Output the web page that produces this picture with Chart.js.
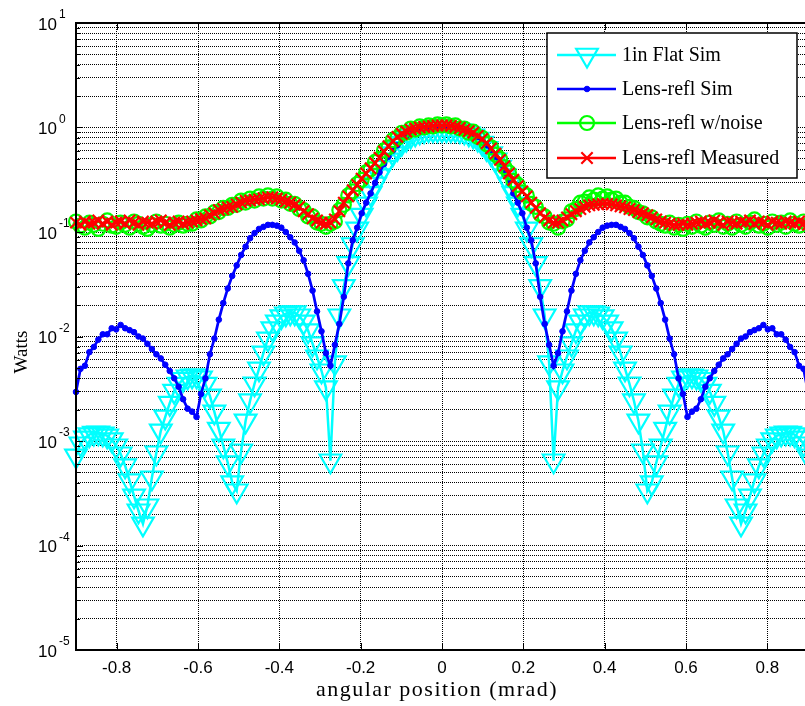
<!DOCTYPE html>
<html>
<head>
<meta charset="utf-8">
<script src="https://cdn.jsdelivr.net/npm/chart.js@4.4.1/dist/chart.umd.min.js"></script>
<style>
  html, body { margin: 0; padding: 0; background: #fff; width: 805px; height: 706px; overflow: hidden; }
  canvas { display: block; }
</style>
</head>
<body>
<canvas id="beamChart" width="812" height="706"></canvas>
<script>
// sampling grid of the angular scan (mrad)
const xMin = -0.9;
const xMax = 0.9;
const nSamples = 165;
const angle = Array.from({ length: nSamples }, (_, i) => xMin + i * (xMax - xMin) / (nSamples - 1));

const xTickValues = [-0.8, -0.6, -0.4, -0.2, 0, 0.2, 0.4, 0.6, 0.8];
const yTickExponents = [-5, -4, -3, -2, -1, 0, 1];

const seriesNames = ['1in Flat Sim', 'Lens-refl Sim', 'Lens-refl w/noise', 'Lens-refl Measured'];

// 1in Flat Sim (Watts)
const flatSim = [
  7.22e-4, 9.41e-4, 1.07e-3, 1.15e-3, 1.19e-3, 1.20e-3, 1.17e-3, 1.12e-3, 1.03e-3, 9.01e-4,
  7.55e-4, 5.80e-4, 4.17e-4, 2.99e-4, 2.15e-4, 1.61e-4, 2.40e-4, 4.45e-4, 7.72e-4, 1.25e-3,
  1.70e-3, 2.30e-3, 3.00e-3, 3.50e-3, 3.90e-3, 4.12e-3, 4.21e-3, 4.21e-3, 4.03e-3, 3.50e-3,
  2.70e-3, 1.90e-3, 1.30e-3, 9.00e-4, 6.20e-4, 4.00e-4, 3.34e-4, 8.07e-4, 1.56e-3, 2.43e-3,
  3.53e-3, 4.91e-3, 6.98e-3, 9.51e-3, 1.19e-2, 1.38e-2, 1.55e-2, 1.65e-2, 1.69e-2, 1.69e-2,
  1.58e-2, 1.38e-2, 1.14e-2, 8.53e-3, 6.40e-3, 4.70e-3, 3.24e-3, 6.47e-4, 5.62e-3, 1.58e-2,
  3.02e-2, 5.01e-2, 7.59e-2, 0.107, 0.145, 0.186, 0.234, 0.288, 0.347, 0.417,
  0.490, 0.562, 0.631, 0.708, 0.776, 0.832, 0.871, 0.912, 0.933, 0.955,
  0.955, 0.955, 0.955,
  0.955, 0.955, 0.955, 0.933, 0.912, 0.871, 0.832, 0.776, 0.708, 0.631,
  0.562, 0.490, 0.417, 0.347, 0.288, 0.234, 0.186, 0.145, 0.107, 7.59e-2,
  5.01e-2, 3.02e-2, 1.58e-2, 5.62e-3, 6.47e-4, 3.24e-3, 4.70e-3, 6.40e-3, 8.53e-3, 1.14e-2,
  1.38e-2, 1.58e-2, 1.69e-2, 1.69e-2, 1.65e-2, 1.55e-2, 1.38e-2, 1.19e-2, 9.51e-3, 6.98e-3,
  4.91e-3, 3.53e-3, 2.43e-3, 1.56e-3, 8.07e-4, 3.34e-4, 4.00e-4, 6.20e-4, 9.00e-4, 1.30e-3,
  1.90e-3, 2.70e-3, 3.50e-3, 4.03e-3, 4.21e-3, 4.21e-3, 4.12e-3, 3.90e-3, 3.50e-3, 3.00e-3,
  2.30e-3, 1.70e-3, 1.25e-3, 7.72e-4, 4.45e-4, 2.40e-4, 1.61e-4, 2.15e-4, 2.99e-4, 4.17e-4,
  5.80e-4, 7.55e-4, 9.01e-4, 1.03e-3, 1.12e-3, 1.17e-3, 1.20e-3, 1.19e-3, 1.15e-3, 1.07e-3,
  9.41e-4, 7.22e-4
];

// Lens-refl Sim (Watts)
const lensSim = [
  2.95e-3, 4.90e-3, 5.25e-3, 7.08e-3, 7.94e-3, 9.33e-3, 1.05e-2, 1.05e-2, 1.20e-2, 1.17e-2,
  1.29e-2, 1.20e-2, 1.15e-2, 1.10e-2, 1.00e-2, 9.55e-3, 8.51e-3, 7.59e-3, 6.76e-3, 6.17e-3,
  5.37e-3, 4.68e-3, 3.98e-3, 3.31e-3, 2.51e-3, 2.04e-3, 1.91e-3, 1.70e-3, 2.82e-3, 3.98e-3,
  6.76e-3, 9.55e-3, 1.45e-2, 2.09e-2, 2.88e-2, 3.80e-2, 4.79e-2, 6.03e-2, 7.24e-2, 8.71e-2,
  9.77e-2, 0.107, 0.112, 0.117, 0.117, 0.115, 0.110, 0.100, 8.91e-2, 7.94e-2,
  6.61e-2, 5.37e-2, 3.98e-2, 2.75e-2, 1.74e-2, 1.12e-2, 6.92e-3, 5.25e-3, 8.32e-3, 1.32e-2,
  2.40e-2, 5.01e-2, 8.32e-2, 0.110, 0.151, 0.191, 0.234, 0.295, 0.372, 0.447,
  0.525, 0.603, 0.676, 0.759, 0.813, 0.871, 0.912, 0.955, 0.977, 0.989,
  0.995, 1.0, 1.0,
  1.0, 0.995, 0.989, 0.977, 0.955, 0.912, 0.871, 0.813, 0.759, 0.676,
  0.603, 0.525, 0.447, 0.372, 0.295, 0.234, 0.191, 0.151, 0.110, 8.32e-2,
  5.01e-2, 2.40e-2, 1.32e-2, 8.32e-3, 5.25e-3, 6.92e-3, 1.12e-2, 1.74e-2, 2.75e-2, 3.98e-2,
  5.37e-2, 6.61e-2, 7.94e-2, 8.91e-2, 0.100, 0.110, 0.115, 0.117, 0.117, 0.112,
  0.107, 9.77e-2, 8.71e-2, 7.24e-2, 6.03e-2, 4.79e-2, 3.80e-2, 2.88e-2, 2.09e-2, 1.45e-2,
  9.55e-3, 6.76e-3, 3.98e-3, 2.82e-3, 1.70e-3, 1.91e-3, 2.04e-3, 2.51e-3, 3.31e-3, 3.98e-3,
  4.68e-3, 5.37e-3, 6.17e-3, 6.76e-3, 7.59e-3, 8.51e-3, 9.55e-3, 1.00e-2, 1.10e-2, 1.15e-2,
  1.20e-2, 1.29e-2, 1.17e-2, 1.20e-2, 1.05e-2, 1.05e-2, 9.33e-3, 7.94e-3, 7.08e-3, 5.25e-3,
  4.90e-3, 2.95e-3
];

// Lens-refl w/noise (Watts)
const lensNoise = [
  0.126, 0.115, 0.110, 0.123, 0.117, 0.107, 0.120, 0.129, 0.115, 0.112,
  0.123, 0.117, 0.110, 0.126, 0.120, 0.112, 0.107, 0.117, 0.126, 0.115,
  0.120, 0.110, 0.117, 0.123, 0.115, 0.120,
  0.120, 0.132, 0.129, 0.141, 0.141, 0.155, 0.155, 0.170, 0.170, 0.182,
  0.182, 0.200, 0.191, 0.209, 0.200, 0.219, 0.209, 0.224, 0.209, 0.219,
  0.200, 0.204, 0.186, 0.186, 0.166, 0.162, 0.141, 0.141, 0.123, 0.120,
  0.112, 0.120, 0.126,
  0.162, 0.182, 0.224, 0.245, 0.288, 0.316, 0.372, 0.398, 0.468, 0.501,
  0.603, 0.646, 0.759, 0.794, 0.891, 0.891, 0.977, 0.955, 1.023, 1.000,
  1.047, 1.023, 1.072, 1.047,
  1.072, 1.023, 1.047, 0.977, 0.977, 0.891, 0.912, 0.813, 0.794, 0.692,
  0.646, 0.550, 0.501, 0.417, 0.372, 0.309, 0.282, 0.240, 0.224, 0.186,
  0.174, 0.148, 0.141, 0.123, 0.120, 0.110, 0.126, 0.132, 0.158, 0.166,
  0.191, 0.195, 0.214, 0.204, 0.224, 0.209, 0.219, 0.204, 0.209, 0.191,
  0.191, 0.174, 0.170, 0.155, 0.151, 0.138, 0.138, 0.126, 0.120, 0.115,
  0.123, 0.110, 0.117, 0.107, 0.120, 0.112,
  0.126, 0.115, 0.110, 0.123, 0.117, 0.129, 0.112, 0.120, 0.110, 0.126,
  0.117, 0.112, 0.123, 0.132, 0.115, 0.120, 0.110, 0.126, 0.117, 0.123,
  0.112, 0.129, 0.120, 0.115, 0.126, 0.117
];

// Lens-refl Measured (Watts)
const lensMeasured = [
  0.123, 0.117, 0.126, 0.120, 0.123, 0.129, 0.120, 0.126, 0.117, 0.123,
  0.126, 0.120, 0.129, 0.123, 0.117, 0.126, 0.123, 0.120, 0.126, 0.129,
  0.123, 0.117, 0.123, 0.126, 0.120, 0.123,
  0.126, 0.129, 0.133, 0.135, 0.145, 0.151, 0.162, 0.166, 0.172, 0.174,
  0.184, 0.191, 0.199, 0.200, 0.204, 0.205, 0.211, 0.214, 0.215, 0.209,
  0.204, 0.196, 0.191, 0.182, 0.174, 0.158, 0.148, 0.135, 0.129, 0.123,
  0.120, 0.123, 0.132,
  0.158, 0.191, 0.219, 0.251, 0.282, 0.324, 0.363, 0.407, 0.457, 0.513,
  0.589, 0.661, 0.741, 0.813, 0.871, 0.912, 0.955, 0.977, 1.000, 1.012,
  1.023, 1.035, 1.047, 1.047,
  1.047, 1.035, 1.012, 0.989, 0.955, 0.923, 0.891, 0.832, 0.776, 0.708,
  0.631, 0.562, 0.490, 0.427, 0.363, 0.316, 0.275, 0.245, 0.219, 0.191,
  0.170, 0.151, 0.138, 0.129, 0.123, 0.123, 0.129, 0.138, 0.148, 0.158,
  0.166, 0.174, 0.180, 0.182, 0.184, 0.186, 0.186, 0.184, 0.180, 0.176,
  0.172, 0.166, 0.162, 0.155, 0.151, 0.145, 0.138, 0.132, 0.126, 0.123,
  0.120, 0.117, 0.117, 0.120, 0.117, 0.120,
  0.123, 0.126, 0.120, 0.123, 0.129, 0.123, 0.117, 0.126, 0.123, 0.120,
  0.126, 0.123, 0.129, 0.120, 0.126, 0.123, 0.117, 0.126, 0.123, 0.120,
  0.126, 0.123, 0.120, 0.126, 0.120, 0.117
];

[flatSim, lensSim, lensNoise, lensMeasured].forEach((s, k) => {
  if (s.length !== nSamples) throw new Error(seriesNames[k] + ' has ' + s.length + ' values');
});

// every decade gets 1..9 grid lines, like a MATLAB log grid
const yGridValues = [];
yTickExponents.forEach(e => {
  for (let m = 1; m <= 9; m++) {
    if (e === yTickExponents[yTickExponents.length - 1] && m > 1) break;
    yGridValues.push(m * Math.pow(10, e));
  }
});

const toPoints = ys => angle.map((x, i) => ({ x: x, y: ys[i] }));
const clear = 'rgba(0,0,0,0)';

const datasets = [
  {
    label: seriesNames[0], data: toPoints(flatSim), order: 4,
    borderColor: '#00ffff', borderWidth: 2.5,
    pointStyle: 'triangle', rotation: 180, pointRadius: 12.5,
    pointBorderColor: '#00ffff', pointBackgroundColor: clear, pointBorderWidth: 2.2
  },
  {
    label: seriesNames[1], data: toPoints(lensSim), order: 3,
    borderColor: '#0000ff', borderWidth: 2.7,
    pointStyle: 'circle', pointRadius: 2.8,
    pointBorderColor: '#0000ff', pointBackgroundColor: '#0000ff', pointBorderWidth: 1
  },
  {
    label: seriesNames[2], data: toPoints(lensNoise), order: 2,
    borderColor: '#00ff00', borderWidth: 2.5,
    pointStyle: 'circle', pointRadius: 7,
    pointBorderColor: '#00ff00', pointBackgroundColor: clear, pointBorderWidth: 2.2
  },
  {
    label: seriesNames[3], data: toPoints(lensMeasured), order: 1,
    borderColor: '#ff0000', borderWidth: 2.5,
    pointStyle: 'crossRot', pointRadius: 8,
    pointBorderColor: '#ff0000', pointBackgroundColor: clear, pointBorderWidth: 2.2
  }
];

const sansFont = '"Liberation Sans", Arial, sans-serif';
const serifFont = '"Liberation Serif", "Times New Roman", serif';

function strokeLine(ctx, x1, y1, x2, y2) {
  ctx.beginPath();
  ctx.moveTo(x1, y1);
  ctx.lineTo(x2, y2);
  ctx.stroke();
}

// frame, inner ticks, 10^n labels, axis titles and the boxed legend
const matlabDecor = {
  id: 'matlabDecor',
  afterDatasetsDraw(chart) {
    const { ctx, chartArea: a, scales: { x, y } } = chart;
    ctx.save();

    ctx.strokeStyle = '#000';
    ctx.lineWidth = 1;
    xTickValues.forEach(v => {
      const px = Math.round(x.getPixelForValue(v)) + 0.5;
      strokeLine(ctx, px, a.bottom, px, a.bottom - 7);
      strokeLine(ctx, px, a.top, px, a.top + 7);
    });
    yGridValues.forEach(v => {
      const py = Math.round(y.getPixelForValue(v)) + 0.5;
      const major = Math.abs(Math.log10(v) - Math.round(Math.log10(v))) < 1e-9;
      strokeLine(ctx, a.left, py, a.left + (major ? 7 : 4), py);
    });

    ctx.lineWidth = 2;
    ctx.strokeRect(a.left, a.top, a.right - a.left, a.bottom - a.top);

    ctx.fillStyle = '#000';
    ctx.textBaseline = 'middle';
    yTickExponents.forEach(e => {
      const py = y.getPixelForValue(Math.pow(10, e));
      ctx.font = '17px ' + sansFont;
      ctx.textAlign = 'right';
      ctx.fillText('10', a.left - 19, py + 2);
      ctx.font = '12px ' + sansFont;
      ctx.textAlign = 'left';
      ctx.fillText(String(e), a.left - 17, py - 8);
    });

    ctx.font = '22px ' + serifFont;
    ctx.textAlign = 'center';
    ctx.letterSpacing = '1.5px';
    ctx.fillText('angular position (mrad)', 437, 690);
    ctx.letterSpacing = '0px';
    ctx.font = '19px ' + serifFont;
    ctx.save();
    ctx.translate(22, 352);
    ctx.rotate(-Math.PI / 2);
    ctx.fillText('Watts', 0, 0);
    ctx.restore();

    // legend box
    const box = { left: 547, top: 33, width: 250, height: 145 };
    ctx.fillStyle = '#fff';
    ctx.fillRect(box.left, box.top, box.width, box.height);
    ctx.lineWidth = 1.5;
    ctx.strokeStyle = '#000';
    ctx.strokeRect(box.left, box.top, box.width, box.height);

    const rowY = [55, 89, 123, 158];
    chart.data.datasets.forEach((ds, k) => {
      const cy = rowY[k];
      ctx.strokeStyle = ds.borderColor;
      ctx.lineWidth = ds.borderWidth;
      strokeLine(ctx, 557, cy, 616, cy);
      ctx.fillStyle = ds.pointBackgroundColor;
      ctx.strokeStyle = ds.pointBorderColor;
      ctx.lineWidth = ds.pointBorderWidth;
      Chart.helpers.drawPoint(ctx, {
        pointStyle: ds.pointStyle, rotation: ds.rotation || 0,
        radius: ds.pointRadius, borderWidth: ds.pointBorderWidth
      }, 587, cy);
      ctx.fillStyle = '#000';
      ctx.font = '20px ' + serifFont;
      ctx.textAlign = 'left';
      ctx.fillText(ds.label, 622, cy + 1);
    });

    ctx.restore();
  }
};

const gridStyle = { color: '#000', lineWidth: 1, drawTicks: false };
const gridBorder = { display: false, dash: [1, 1] };

new Chart(document.getElementById('beamChart'), {
  type: 'line',
  data: { datasets: datasets },
  options: {
    responsive: false,
    animation: false,
    parsing: false,
    normalized: true,
    datasets: { line: { clip: false, tension: 0, fill: false } },
    layout: { autoPadding: false, padding: { top: 23, right: 4, left: 0, bottom: 0 } },
    plugins: { legend: { display: false }, tooltip: { enabled: false } },
    scales: {
      x: {
        type: 'linear', min: xMin, max: xMax,
        afterBuildTicks: s => { s.ticks = xTickValues.map(v => ({ value: v })); },
        afterFit: s => { s.height = 56; s.paddingLeft = 0; s.paddingRight = 0; },
        grid: gridStyle, border: gridBorder,
        ticks: {
          color: '#000', padding: 8, maxRotation: 0, autoSkip: false,
          font: { family: sansFont, size: 17 },
          callback: v => (v === 0 ? '0' : v.toFixed(1))
        }
      },
      y: {
        type: 'logarithmic', min: 1e-5, max: 10,
        afterBuildTicks: s => { s.ticks = yGridValues.map(v => ({ value: v })); },
        afterFit: s => { s.width = 76; s.paddingTop = 0; s.paddingBottom = 0; },
        grid: gridStyle, border: gridBorder,
        ticks: { display: false }
      }
    }
  },
  plugins: [matlabDecor]
});
</script>
</body>
</html>
